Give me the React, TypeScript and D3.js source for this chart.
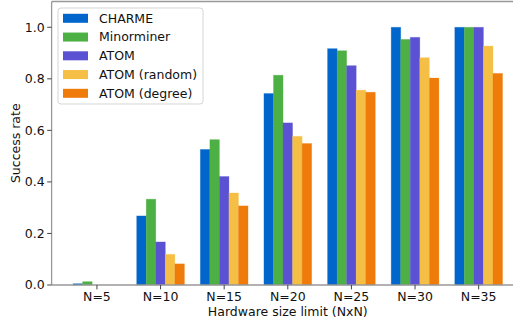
import React from "react";
import * as d3 from "d3";

const categories = ["N=5", "N=10", "N=15", "N=20", "N=25", "N=30", "N=35"];
const seriesNames = ["CHARME", "Minorminer", "ATOM", "ATOM (random)", "ATOM (degree)"];
const charme = [0.005, 0.268, 0.526, 0.743, 0.917, 1.0, 1.0];
const minorminer = [0.013, 0.333, 0.564, 0.814, 0.909, 0.953, 1.0];
const atom = [0, 0.167, 0.421, 0.629, 0.851, 0.961, 1.0];
const atomRandom = [0, 0.119, 0.357, 0.577, 0.756, 0.882, 0.927];
const atomDegree = [0, 0.082, 0.307, 0.549, 0.748, 0.803, 0.821];
const colors = ["#0066CC", "#4DB044", "#5A52D3", "#F5BF45", "#EE7B0A"];
const yTicks = [0, 0.2, 0.4, 0.6, 0.8, 1.0];

const allSeries = [charme, minorminer, atom, atomRandom, atomDegree];

export default function App() {
  const W = 513, H = 323;
  const left = 51.6, right = 524, top = 1.5, bottom = 285;
  const x = d3.scaleLinear().domain([-0.7125, 6.7125]).range([left, right]);
  const y = d3.scaleLinear().domain([0, 1.1]).range([bottom, top]);
  const bw = 0.15;
  const font = "DejaVu Sans, sans-serif";
  const fs = 12.5;
  const tc = "#111";
  return (
    <svg width={W} height={H} style={{ position: "absolute", left: 0, top: 0, background: "#fff" }}>
      {allSeries.map((vals, si) =>
        vals.map((v, ci) => {
          const xc = ci + (si - 2) * bw;
          const x0 = x(xc - bw / 2);
          const x1 = x(xc + bw / 2);
          return (
            <rect key={`${si}-${ci}`} x={x0} y={y(v)} width={x1 - x0} height={y(0) - y(v)}
              fill={colors[si]} stroke={colors[si]} strokeOpacity={0.35} strokeWidth={0.8} />
          );
        })
      )}
      {/* spines */}
      <line x1={left} x2={right} y1={bottom} y2={bottom} stroke="#999" strokeWidth={1.3} />
      <line x1={left} x2={right} y1={top} y2={top} stroke="#999" strokeWidth={1.3} />
      <line x1={left} x2={left} y1={top} y2={bottom} stroke="#999" strokeWidth={1.3} />
      {yTicks.map((t) => (
        <g key={t}>
          <line x1={left - 4.4} x2={left} y1={y(t)} y2={y(t)} stroke="#444" strokeWidth={1} />
          <text x={left - 7} y={y(t)} dy="0.35em" textAnchor="end" fontFamily={font} fontSize={fs} fill={tc}>
            {t.toFixed(1)}
          </text>
        </g>
      ))}
      {categories.map((c, i) => (
        <g key={c}>
          <line x1={x(i)} x2={x(i)} y1={bottom} y2={bottom + 4.4} stroke="#444" strokeWidth={1} />
          <text x={x(i)} y={bottom + 16} textAnchor="middle" fontFamily={font} fontSize={fs} fill={tc}>
            {c}
          </text>
        </g>
      ))}
      <text x={(left + right) / 2} y={316} textAnchor="middle" fontFamily={font} fontSize={fs} fill={tc}>
        Hardware size limit (NxN)
      </text>
      <text transform={`translate(19.5,${(top + bottom) / 2}) rotate(-90)`} textAnchor="middle"
        fontFamily={font} fontSize={fs} fill={tc}>
        Success rate
      </text>
      {/* legend */}
      <rect x={58} y={8} width={145} height={96} rx={3} fill="#fff" fillOpacity={0.8} stroke="#d5d5d5" strokeWidth={1} />
      {seriesNames.map((n, i) => {
        const cy = 18.3 + i * 18.75;
        return (
          <g key={n}>
            <rect x={63} y={cy - 4.5} width={25} height={9} fill={colors[i]} />
            <text x={99} y={cy} dy="0.35em" fontFamily={font} fontSize={fs} fill={tc}>{n}</text>
          </g>
        );
      })}
    </svg>
  );
}
